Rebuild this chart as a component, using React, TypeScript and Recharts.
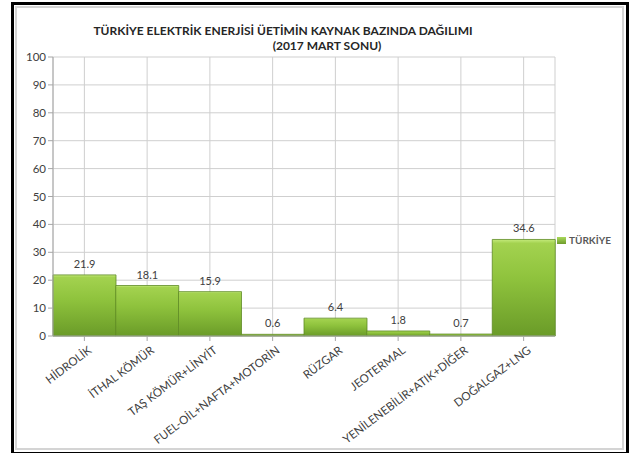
import React from 'react';
import { BarChart, Bar, XAxis, YAxis, CartesianGrid, LabelList } from 'recharts';

const categories = [
  'HİDROLİK',
  'İTHAL KÖMÜR',
  'TAŞ KÖMÜR+LİNYİT',
  'FUEL-OİL+NAFTA+MOTORİN',
  'RÜZGAR',
  'JEOTERMAL',
  'YENİLENEBİLİR+ATIK+DİĞER',
  'DOĞALGAZ+LNG',
];
const turkiye = [21.9, 18.1, 15.9, 0.6, 6.4, 1.8, 0.7, 34.6];
const yTicks = [0, 10, 20, 30, 40, 50, 60, 70, 80, 90, 100];
const seriesName = 'TÜRKİYE';
const titleLine1 = 'TÜRKİYE ELEKTRİK ENERJİSİ ÜETİMİN KAYNAK BAZINDA DAĞILIMI';
const titleLine2 = '(2017 MART SONU)';

const data = categories.map((c, i) => ({ name: c, value: turkiye[i] }));

const FONT = 'Lato, "Open Sans", sans-serif';

const XTick = (props: any) => {
  const { x, y, payload } = props;
  return (
    <g transform={`translate(${x + 8},${y + 9})`}>
      <text
        x={0}
        y={0}
        textAnchor="end"
        transform="rotate(-37)"
        fontSize={11.5}
        fontFamily={FONT}
        fill="#404040"
      >
        {payload.value}
      </text>
    </g>
  );
};

export default function App() {
  return (
    <div style={{ position: 'absolute', left: 0, top: 0, width: 637, height: 453, background: '#fff' }}>
      <div
        style={{
          position: 'absolute',
          left: 11,
          top: 2,
          width: 612,
          height: 447,
          border: '3px solid #000',
          borderBottomWidth: 4,
        }}
      />
      <div
        style={{
          position: 'absolute',
          left: 15,
          top: 6,
          width: 605,
          height: 440,
          border: '2px solid #d4d4d4',
        }}
      />
      <div
        style={{
          position: 'absolute',
          left: 92,
          top: 23,
          width: 382,
          textAlign: 'center',
          fontFamily: FONT,
          fontWeight: 700,
          fontSize: 12,
          color: '#262626',
          lineHeight: '15px',
          whiteSpace: 'nowrap',
        }}
      >
        <div>{titleLine1}</div>
        <div style={{ paddingLeft: 88 }}>{titleLine2}</div>
      </div>
      <div style={{ position: 'absolute', left: 0, top: 0 }}>
        <BarChart
          width={637}
          height={453}
          data={data}
          margin={{ top: 57, right: 82, left: 12, bottom: 0 }}
          barCategoryGap={0}
        >
          <defs>
            <linearGradient id="barGrad" x1="0" y1="0" x2="0" y2="1">
              <stop offset="0%" stopColor="#c4ea7c" />
              <stop offset="4%" stopColor="#a3d24f" />
              <stop offset="40%" stopColor="#8fc33d" />
              <stop offset="100%" stopColor="#6a9b28" />
            </linearGradient>
          </defs>
          <CartesianGrid stroke="#cfcfcf" strokeWidth={1} />
          <XAxis
            dataKey="name"
            interval={0}
            height={117}
            tick={<XTick />}
            tickLine={{ stroke: '#a6a6a6' }}
            axisLine={{ stroke: '#a6a6a6' }}
            tickSize={5}
          />
          <YAxis
            width={41}
            domain={[0, 100]}
            ticks={yTicks}
            interval={0}
            tick={{ fontSize: 11.5, fontFamily: FONT, fill: '#404040' }}
            tickLine={{ stroke: '#a6a6a6' }}
            axisLine={{ stroke: '#a6a6a6' }}
            tickSize={5}
          />
          <Bar dataKey="value" name={seriesName} fill="url(#barGrad)" stroke="#5e8a24" strokeWidth={0.8} isAnimationActive={false}>
            <LabelList
              dataKey="value"
              position="top"
              offset={7}
              style={{ fontSize: 11, fontFamily: FONT, fill: '#404040' }}
            />
          </Bar>
        </BarChart>
      </div>
      <div
        style={{
          position: 'absolute',
          left: 557,
          top: 234,
          display: 'flex',
          alignItems: 'center',
          fontFamily: FONT,
          fontSize: 10,
          fontWeight: 700,
          color: '#595959',
        }}
      >
        <svg width={9} height={7} style={{ marginRight: 3 }}>
          <defs>
            <linearGradient id="legGrad" x1="0" y1="0" x2="0" y2="1">
              <stop offset="0%" stopColor="#a9d85a" />
              <stop offset="100%" stopColor="#6e9c2c" />
            </linearGradient>
          </defs>
          <rect x={0} y={0} width={9} height={7} fill="url(#legGrad)" />
        </svg>
        <span>{seriesName}</span>
      </div>
    </div>
  );
}
